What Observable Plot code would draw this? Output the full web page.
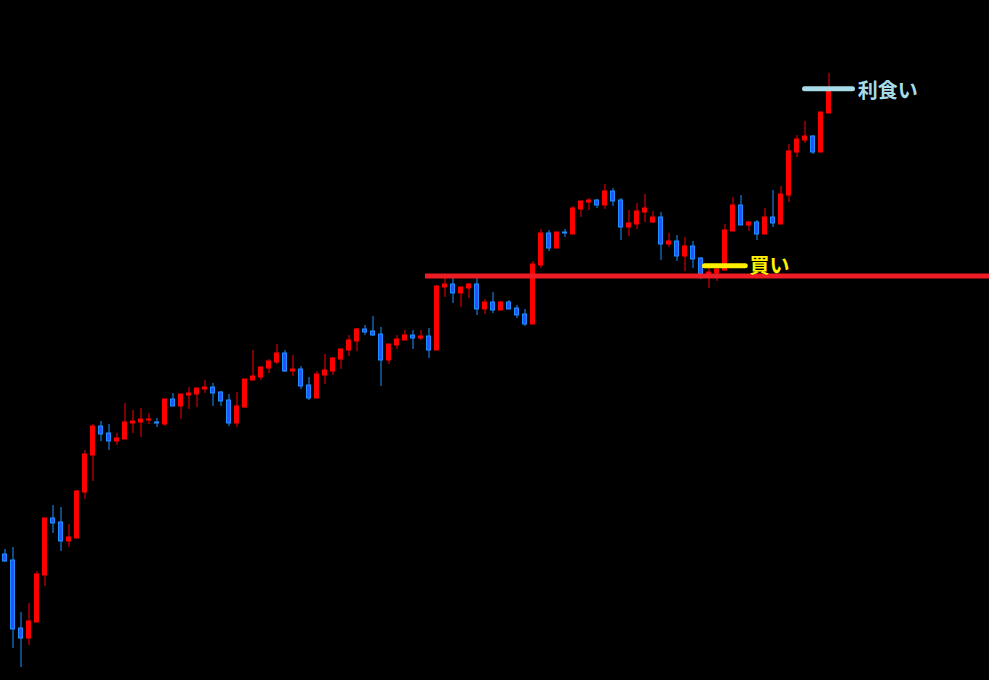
<!DOCTYPE html>
<html>
<head>
<meta charset="utf-8">
<script src="https://cdn.jsdelivr.net/npm/d3@7"></script>
<script src="https://cdn.jsdelivr.net/npm/@observablehq/plot@0.6"></script>
<style>
  html, body { margin: 0; padding: 0; background: #000; }
  #chart svg { display: block; }
</style>
</head>
<body>
<div id="chart"></div>
<script>
// Candlestick prices (arbitrary price units), one entry per bar
const opens = [126,120,52,42,58,105,162,158,139,142,188,225,254,247,239,241,257,258,260,258,
  256,281,274,285,286,291,293,288,280,257,273,300,303,312,318,327,309,311,295,282,
  305,309,321,330,339,351,349,346,320,335,340,345,342,344,330,393,396,387,392,396,
  371,378,370,378,372,366,356,415,447,432,448,446,471,478,480,475,489,480,453,456,
  468,458,463,436,439,424,434,422,403,407,410,449,475,455,458,446,463,456,485,528,
  540,544,528,567];
const closes = [119,51,42,59,106,162,157,139,143,189,226,254,246,239,242,258,259,261,261,257,
  281,274,286,287,292,293,287,279,257,274,301,304,313,319,327,309,311,294,282,306,
  310,322,331,340,351,348,345,320,336,341,345,342,344,330,394,396,387,393,396,371,
  378,370,378,371,365,356,416,447,432,448,447,472,479,480,475,489,479,453,457,469,
  472,463,436,439,424,434,421,406,408,411,450,475,455,458,446,463,457,486,529,541,
  544,528,568,589];
const highs = [131,133,68,77,109,162,175,173,156,190,230,256,259,256,247,277,270,272,267,262,
  281,287,286,293,292,300,297,289,286,288,301,330,314,321,336,330,325,314,303,309,
  326,323,332,345,352,355,364,353,336,345,350,350,350,352,395,402,403,393,397,403,
  381,388,379,380,375,371,419,451,450,448,451,474,479,482,481,496,492,482,470,477,
  486,469,468,447,445,443,439,423,412,412,456,483,485,459,460,472,490,494,536,545,
  559,545,568,607];
const lows = [118,32,13,35,58,94,147,129,133,142,181,199,239,230,235,241,247,243,256,253,
  254,274,261,271,273,287,274,274,254,253,272,300,300,307,316,308,304,291,280,282,
  296,305,311,324,329,345,344,294,316,331,340,331,340,322,330,383,377,373,382,365,
  366,367,370,371,362,354,356,412,429,432,443,446,463,470,472,471,474,440,444,451,
  458,457,420,433,419,409,412,401,392,399,410,449,455,449,440,446,453,456,478,523,
  537,526,528,567];

// Annotation levels
const resistanceLevel = 404.5;       // red horizontal line
const resistanceFrom = 52.56;        // bar index where the red line starts
const buyLevel = 414.7;              // yellow entry line
const buyFrom = 87.5, buyTo = 92.6;
const buyLabel = "買い";
const takeProfitLevel = 591.7;       // light-blue exit line
const tpFrom = 100.0, tpTo = 106.0;
const tpLabel = "利食い";

const UP = "#ff0000";
const DOWN_FILL = "#2a50ff";
const DOWN_EDGE = "#1e90ff";

const bars = opens.map((o, i) => ({
  i, open: o, close: closes[i], high: highs[i], low: lows[i], up: closes[i] >= o
}));

const chart = Plot.plot({
  width: 989,
  height: 680,
  margin: 0,
  style: { background: "#000", overflow: "visible" },
  x: { type: "linear", domain: [-0.5625, 123.0625], axis: null },
  y: { type: "linear", domain: [0, 680], axis: null },
  marks: [
    Plot.ruleX(bars, {
      x: "i", y1: "low", y2: "high",
      stroke: d => d.up ? UP : DOWN_EDGE, strokeWidth: 1
    }),
    Plot.rect(bars, {
      x1: d => d.i - 0.25, x2: d => d.i + 0.25,
      y1: "open", y2: "close",
      fill: d => d.up ? UP : DOWN_FILL,
      stroke: d => d.up ? UP : DOWN_EDGE, strokeWidth: 1
    }),
    Plot.ruleY([{ y: resistanceLevel, a: resistanceFrom, b: 130 }], {
      y: "y", x1: "a", x2: "b", stroke: "#ee1c24", strokeWidth: 5
    }),
    Plot.ruleY([{ y: buyLevel, a: buyFrom, b: buyTo }], {
      y: "y", x1: "a", x2: "b", stroke: "#fff000", strokeWidth: 5, strokeLinecap: "round"
    }),
    Plot.text([{ y: buyLevel - 1, x: 93.06, t: buyLabel }], {
      x: "x", y: "y", text: "t", textAnchor: "start", lineAnchor: "middle",
      fill: "#fff000", fontSize: 20, fontWeight: "bold",
      fontFamily: "'Noto Sans CJK JP', sans-serif"
    }),
    Plot.ruleY([{ y: takeProfitLevel, a: tpFrom, b: tpTo }], {
      y: "y", x1: "a", x2: "b", stroke: "#a8dbe8", strokeWidth: 5, strokeLinecap: "round"
    }),
    Plot.text([{ y: takeProfitLevel - 2.5, x: 106.6, t: tpLabel }], {
      x: "x", y: "y", text: "t", textAnchor: "start", lineAnchor: "middle",
      fill: "#a8dbe8", fontSize: 20, fontWeight: "bold",
      fontFamily: "'Noto Sans CJK JP', sans-serif"
    })
  ]
});
document.getElementById("chart").appendChild(chart);
</script>
</body>
</html>
